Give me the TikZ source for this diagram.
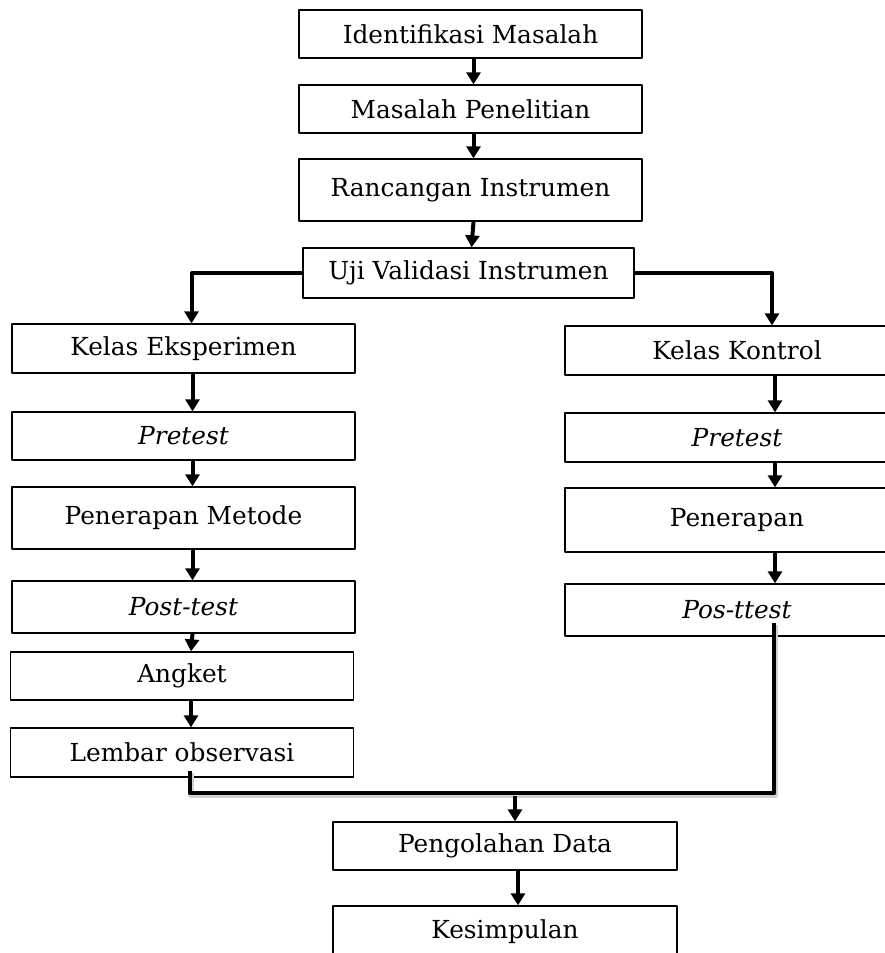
\documentclass[tikz,border=0pt]{standalone}
\usepackage{fontspec}
\setmainfont{DejaVu Serif}
\usetikzlibrary{arrows.meta}
\begin{document}
\begin{tikzpicture}[x=1pt, y=-1pt, line join=round,
 kotak/.style={draw, line width=1.3pt, inner sep=0pt, font=\fontsize{24.8}{28}\selectfont},
 arah/.style={line width=4pt, -{Triangle[width=14pt,length=12pt]}},
 garis/.style={line width=4.5pt, preaction={draw=black!18, line width=6pt, transform canvas={shift={(1pt,-2pt)}}}}]
 \useasboundingbox (0,0) rectangle (885,953);
 % alur utama
 \node[kotak, minimum width=343, minimum height=48] (idm) at (470.5,34) {Identifikasi Masalah};
 \node[kotak, minimum width=343, minimum height=48] (mp) at (470.5,109) {Masalah Penelitian};
 \node[kotak, minimum width=343, minimum height=62] (ri) at (470.5,190) {Rancangan Instrumen};
 \node[kotak, minimum width=331, minimum height=50] (uvi) at (468.5,273) {Uji Validasi Instrumen};
 % kelas eksperimen
 \node[kotak, minimum width=343, minimum height=49] (ke) at (183.5,348.5) {Kelas Eksperimen};
 \node[kotak, minimum width=343, minimum height=48] (pre1) at (183.5,436) {\itshape Pretest};
 \node[kotak, minimum width=343, minimum height=62] (pm) at (183.5,518) {Penerapan Metode};
 \node[kotak, minimum width=343, minimum height=52] (post1) at (183.5,607) {\itshape Post-test};
 \node[kotak, minimum width=343, minimum height=48] (ang) at (182,676) {Angket};
 \node[kotak, minimum width=343, minimum height=49] (lo) at (182,752.5) {Lembar observasi};
 % kelas kontrol
 \node[kotak, minimum width=344, minimum height=49] (kk) at (737,350.5) {Kelas Kontrol};
 \node[kotak, minimum width=344, minimum height=49] (pre2) at (737,437.5) {\itshape Pretest};
 \node[kotak, minimum width=344, minimum height=64] (pen) at (737,520) {Penerapan};
 \node[kotak, minimum width=344, minimum height=52] (pos2) at (737,610) {\itshape Pos-ttest};
 % akhir
 \node[kotak, minimum width=344, minimum height=48] (pd) at (505,846) {Pengolahan Data};
 \node[kotak, minimum width=344, minimum height=52] (kes) at (505,932) {Kesimpulan};

 \foreach \a/\b in {idm/mp, mp/ri, ri/uvi}
 \draw[arah] ([xshift=3pt]\a.south) -- ([xshift=3pt]\b.north);
 \foreach \a/\b in {ke/pre1, pre1/pm, pm/post1, post1/ang, ang/lo}
 \draw[arah] ([xshift=9pt]\a.south) -- ([xshift=9pt]\b.north);
 \foreach \a/\b in {kk/pre2, pre2/pen, pen/pos2}
 \draw[arah] ([xshift=38pt]\a.south) -- ([xshift=38pt]\b.north);

 \draw[arah] (uvi.west) -| ([xshift=8pt]ke.north);
 \draw[arah] (uvi.east) -| ([xshift=35pt]kk.north);

 \coordinate (kiri) at (190,793);
 \coordinate (kanan) at (774,793);
 \coordinate (turun) at (515,796);
 \draw[garis] ([xshift=8pt,yshift=7pt]lo.south) -- (kiri) -- (kanan) -- ([xshift=37pt,yshift=14pt]pos2.south);
 \draw[arah] (turun) -- ([xshift=10pt]pd.north);
 \draw[arah] ([xshift=13pt]pd.south) -- ([xshift=13pt]kes.north);
\end{tikzpicture}
\end{document}
